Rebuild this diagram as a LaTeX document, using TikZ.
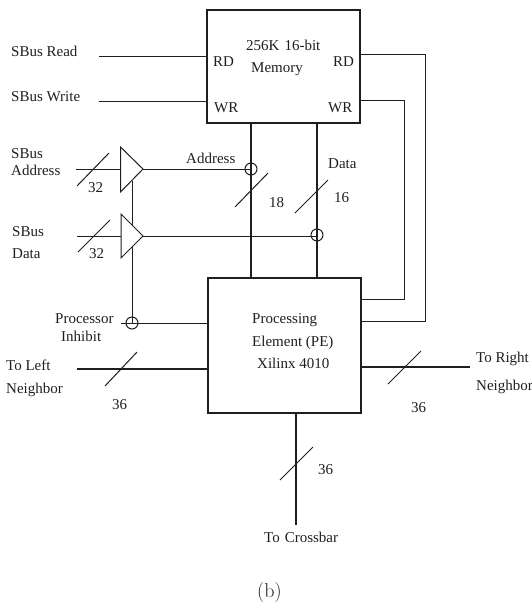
\documentclass[tikz,border=0pt]{standalone}
\usepackage{fontspec}
\setmainfont{Liberation Serif}
\newfontfamily\lmfont{Latin Modern Roman}
\definecolor{ink}{gray}{0.12}
\tikzset{
  lab/.style={anchor=base west,inner sep=0pt,text=ink,font=\fontsize{15}{17}\selectfont},
  blockbox/.style={draw=ink,line width=1.8pt,fill=white,inner sep=0pt},
  wire/.style={draw=ink,line width=1pt},
  bus/.style={draw=ink,line width=2.1pt},
  slashmark/.style={draw=ink,line width=1pt},
  amp/.style={draw=ink,line width=1pt,fill=white},
  junction/.style={circle,draw=ink,line width=1pt,minimum size=12pt,inner sep=0pt}
}
\begin{document}
\begin{tikzpicture}[x=1pt,y=-1pt]
\useasboundingbox (0,0) rectangle (532,603);
% free ends
\coordinate (rdin) at (99,56);
\coordinate (wrin) at (99,101);
\coordinate (memrdl) at (207,56);
\coordinate (memwrl) at (207,101);
\coordinate (addrin) at (76,169);
\coordinate (datain) at (77,236);
\coordinate (ta1) at (120.5,147); \coordinate (ta2) at (120.5,192); \coordinate (ta3) at (143,169);
\coordinate (td1) at (121,214); \coordinate (td2) at (121,258); \coordinate (td3) at (143,236);
\coordinate (enTop) at (132,181);
\coordinate (inhL) at (121,323);
\coordinate (leftEnd) at (77,369);
\coordinate (rightEnd) at (470,367);
\coordinate (crossEnd) at (296,525);
\coordinate (rdCorner1) at (425.5,54);
\coordinate (rdCorner2) at (425.5,321);
\coordinate (wrCorner1) at (404,100);
\coordinate (wrCorner2) at (404,299);
% junctions
\node[junction] (jaddr) at (251,169) {};
\node[junction] (jdata) at (317,235) {};
\node[junction] (jinh) at (132,323) {};
% wires under boxes
\draw[wire] (rdin) -- (memrdl);
\draw[wire] (wrin) -- (memwrl);
\draw[wire] (addrin) -- (addrin -| ta1);
\draw[wire] (datain) -- (datain -| td1);
\draw[wire] (ta3) -- (jaddr.center);
\draw[wire] (td3) -- (td3 -| jdata.center);
\draw[wire] (enTop) -- (jinh.center);
\draw[wire] (inhL) -- (208,323);
\draw[wire] (360,54) -- (rdCorner1) -- (rdCorner2) -- (361,321);
\draw[wire] (360,100) -- (wrCorner1) -- (wrCorner2) -- (361,299);
\draw[bus] (251,123) -- (251,278);
\draw[bus] (317,123) -- (317,278);
\draw[bus] (leftEnd) -- (208,369);
\draw[bus] (361,367) -- (rightEnd);
\draw[bus] (296,413) -- (crossEnd);
% amplifiers
\draw[amp] (ta1) -- (ta2) -- (ta3) -- cycle;
\draw[amp] (td1) -- (td2) -- (td3) -- cycle;
% boxes
\node[blockbox,minimum width=153pt,minimum height=113pt] (mem) at (283.5,66.5) {};
\node[blockbox,minimum width=153pt,minimum height=135pt] (pe) at (284.5,345.5) {};
% slashes
\draw[slashmark] (77,186) -- (109,153);
\draw[slashmark] (78,252) -- (110,220);
\draw[slashmark] (235,207) -- (268,173);
\draw[slashmark] (295,213) -- (328,180);
\draw[slashmark] (105,386) -- (137,352);
\draw[slashmark] (388,384) -- (421,351);
\draw[slashmark] (280,480) -- (313,447);
% labels
\node[lab] (t1) at (11,56.5) {SBus Read};
\node[lab] (t2) at (11,101.5) {SBus Write};
\node[lab] (t3) at (213,66.5) {RD};
\node[lab] (t4) at (214,112.5) {WR};
\node[lab] (t5) at (246,50) {256K\hspace{5pt}16-bit};
\node[lab] (t6) at (251,72.5) {Memory};
\node[lab] (t7) at (333,66) {RD};
\node[lab] (t8) at (328,112) {WR};
\node[lab] (t9) at (11,158.5) {SBus};
\node[lab] (t10) at (11,175) {Address};
\node[lab] (t11) at (88,192) {32};
\node[lab] (t12) at (12,236) {SBus};
\node[lab] (t13) at (12,258) {Data};
\node[lab] (t14) at (89,258) {32};
\node[lab] (t15) at (186,163) {Address};
\node[lab] (t16) at (328,168) {Data};
\node[lab] (t17) at (334,202) {16};
\node[lab] (t18) at (269,207) {18};
\node[lab] (t19) at (55,323) {Processor};
\node[lab] (t20) at (61,341) {Inhibit};
\node[lab] (t21) at (6,370) {To Left};
\node[lab] (t22) at (6,393) {Neighbor};
\node[lab] (t23) at (112,409) {36};
\node[lab] (t24) at (252,323) {Processing};
\node[lab] (t25) at (252,346) {Element (PE)};
\node[lab] (t26) at (257,368) {Xilinx 4010};
\node[lab] (t27) at (476,362) {To Right};
\node[lab] (t28) at (476,390) {Neighbor};
\node[lab] (t29) at (411,412) {36};
\node[lab] (t30) at (318,474) {36};
\node[lab] (t31) at (264,542) {To\hspace{5pt}Crossbar};
\node[lab,font=\lmfont\fontsize{20}{22}\selectfont] (t32) at (257,597) {(b)};
\end{tikzpicture}
\end{document}
